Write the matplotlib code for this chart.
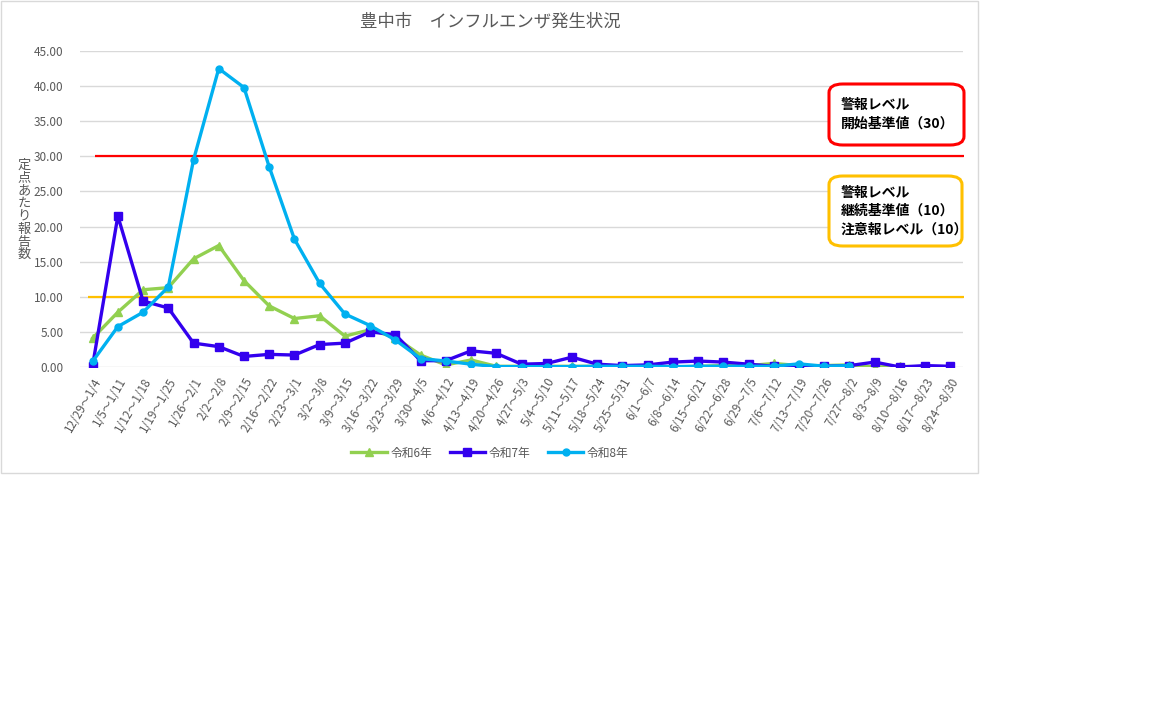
import matplotlib.pyplot as plt
import matplotlib.patches as patches
import numpy as np

plt.rcParams['font.family'] = ['Noto Sans CJK JP', 'DejaVu Sans']

weeks = ['12/29～1/4', '1/5～1/11', '1/12～1/18', '1/19～1/25', '1/26～2/1',
         '2/2～2/8', '2/9～2/15', '2/16～2/22', '2/23～3/1', '3/2～3/8',
         '3/9～3/15', '3/16～3/22', '3/23～3/29', '3/30～4/5', '4/6～4/12',
         '4/13～4/19', '4/20～4/26', '4/27～5/3', '5/4～5/10', '5/11～5/17',
         '5/18～5/24', '5/25～5/31', '6/1～6/7', '6/8～6/14', '6/15～6/21',
         '6/22～6/28', '6/29～7/5', '7/6～7/12', '7/13～7/19', '7/20～7/26',
         '7/27～8/2', '8/3～8/9', '8/10～8/16', '8/17～8/23', '8/24～8/30']

r6 = [4.1, 7.8, 11.0, 11.3, 15.4, 17.3, 12.3, 8.7, 6.9, 7.3,
      4.4, 5.3, 4.2, 1.7, 0.3, 1.0, 0.1, 0.1, 0.1, 0.1,
      0.1, 0.1, 0.2, 0.0, 0.1, 0.2, 0.2, 0.5, 0.2, 0.2,
      0.3, 0.0, 0.1, 0.0, 0.0]
r7 = [0.2, 21.5, 9.4, 8.4, 3.4, 2.9, 1.5, 1.8, 1.7, 3.2,
      3.4, 5.0, 4.6, 0.9, 0.9, 2.3, 1.95, 0.4, 0.5, 1.4,
      0.4, 0.2, 0.3, 0.7, 0.85, 0.7, 0.4, 0.1, 0.05, 0.1,
      0.2, 0.7, 0.0, 0.2, 0.1]
r8 = [0.8, 5.75, 7.8, 11.4, 29.5, 42.5, 39.8, 28.5, 18.2, 11.9,
      7.55, 5.9, 3.85, 1.2, 0.85, 0.4, 0.05, 0.05, 0.05, 0.05,
      0.1, 0.1, 0.1, 0.05, 0.1, 0.1, 0.1, 0.1, 0.45, 0.1,
      0.2]

alert_start = 30
alert_continue = 10

fig = plt.figure(figsize=(11.52, 7.2), dpi=100)
fig.patches.append(patches.Rectangle((0.5 / 1152, 1 - 473 / 720), 977 / 1152, 472 / 720,
                                     transform=fig.transFigure, fill=False,
                                     edgecolor='#D9D9D9', linewidth=1))
ax = fig.add_axes([80 / 1152, 1 - 367 / 720, 883 / 1152, 316 / 720])

x = np.arange(len(weeks))
ax.plot(x[:len(r6)], r6, color='#92D050', lw=2.4, marker='^', ms=6, label='令和6年', zorder=3)
ax.plot(x[:len(r7)], r7, color='#3300EE', lw=2.4, marker='s', ms=6, label='令和7年', zorder=4)
ax.plot(x[:len(r8)], r8, color='#00B0F0', lw=2.4, marker='o', ms=5, label='令和8年', zorder=5)

ax.hlines(alert_start, 0.1, 34.55, color='#FF0000', lw=1.6, zorder=2, clip_on=False)
ax.hlines(alert_continue, -0.2, 34.55, color='#FFC000', lw=1.6, zorder=2, clip_on=False)

ax.set_xlim(-0.5, 34.5)
ax.set_ylim(0, 45)
ax.set_yticks(np.arange(0, 46, 5))
ax.set_yticklabels([f'{v:.2f}' for v in np.arange(0, 46, 5)])
ax.set_xticks(x)
ax.set_xticklabels(weeks, rotation=60, ha='right', rotation_mode='anchor')
ax.tick_params(axis='both', length=0, colors='#595959', labelsize=8.5)
ax.tick_params(axis='x', pad=6)
ax.tick_params(axis='y', pad=12)
ax.grid(axis='y', color='#D9D9D9', lw=1)
ax.set_axisbelow(True)
for s in ax.spines.values():
    s.set_visible(False)

fig.text(490 / 1152, 1 - 22 / 720, '豊中市　インフルエンザ発生状況', ha='center', va='center',
         fontsize=12.5, color='#595959')
fig.text(24 / 1152, 1 - 210 / 720, '\n'.join('定点あたり報告数'), ha='center', va='center',
         multialignment='center', fontsize=9.5, color='#595959', linespacing=0.98)

# callout boxes
for (x0, y0, x1, y1), col, txt in [
        ((829, 84, 964, 145), '#FF0000', '警報レベル\n開始基準値（30）'),
        ((829, 176, 962, 246), '#FFC000', '警報レベル\n継続基準値（10）\n注意報レベル（10）')]:
    box = patches.FancyBboxPatch((x0 / 1152, 1 - y1 / 720), (x1 - x0) / 1152, (y1 - y0) / 720,
                                 boxstyle='round,pad=0,rounding_size=0.012',
                                 transform=fig.transFigure, fill=True, facecolor='white',
                                 edgecolor=col, linewidth=2.2)
    fig.patches.append(box)
    fig.text(841 / 1152, 1 - (y0 + y1) / 2 / 720, txt, ha='left', va='center',
             fontsize=10, fontweight='bold', color='black', linespacing=1.4)

fig.legend(loc='center', bbox_to_anchor=(490 / 1152, 1 - 453 / 720), ncol=3, frameon=False,
           fontsize=8.5, labelcolor='#595959', handlelength=3, columnspacing=1.5,
           handletextpad=0.3)

fig.savefig('out.png', dpi=100)
